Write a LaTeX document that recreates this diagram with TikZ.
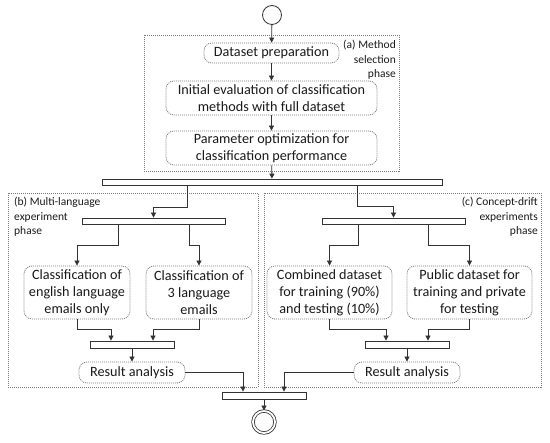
\documentclass[tikz,border=0pt]{standalone}
\usepackage{fontspec}
\setmainfont{Carlito}
\usetikzlibrary{arrows.meta,positioning,calc}
\definecolor{ln}{HTML}{333333}
\definecolor{bd}{HTML}{7A7A7A}
\definecolor{tx}{HTML}{1A1A1A}
\tikzset{
  x=1pt,y=-1pt,
  box/.style={draw=bd,line width=0.8pt,dash pattern=on 1pt off 1pt,rounded corners=8pt,
    align=center,inner sep=0pt,font=\fontsize{14.2}{17}\selectfont,text=tx,fill=white},
  frame/.style={draw=bd,line width=0.8pt,dash pattern=on 1pt off 1pt},
  bar/.style={draw=ln,line width=0.8pt,fill=white,inner sep=0pt,minimum height=6pt},
  arr/.style={draw=ln,line width=0.8pt,-{Triangle[length=5pt,width=5pt]}},
  lbl/.style={font=\fontsize{11.5}{14.5}\selectfont,text=tx,inner sep=0pt},
}
\begin{document}
\begin{tikzpicture}
\useasboundingbox (0,0) rectangle (550,443);
% frames
\draw[frame] (144,35) rectangle (399,171);
\draw[frame] (8,193) rectangle (258,387);
\draw[frame] (264,193) rectangle (541,387);
% labels
\node[lbl,align=right,anchor=north east] (la) at (396,40) {(a) Method\\selection\\phase};
\node[lbl,align=left,anchor=north west] (lb) at (14,197) {(b) Multi-language\\experiment\\phase};
\node[lbl,align=right,anchor=north east] (lc) at (538,197) {(c) Concept-drift\\experiments\\phase};
% start / end
\node[circle,draw=ln,line width=0.8pt,minimum size=19pt,inner sep=0pt] (start) at (272,15) {};
\node[circle,draw=ln,line width=0.8pt,minimum size=22pt,inner sep=0pt,double=white,double distance=1.8pt] (end) at (264,422) {};
% phase (a)
\node[box,minimum width=135pt,minimum height=20pt] (dp) at (271.5,53) {Dataset preparation};
\node[box,minimum width=211pt,minimum height=34pt] (ie) at (271.5,98) {Initial evaluation of classification\\methods with full dataset};
\node[box,minimum width=211pt,minimum height=34pt] (po) at (271.5,148) {Parameter optimization for\\classification performance};
% bars
\node[bar,minimum width=340pt] (main) at (272,182) {};
\node[bar,minimum width=143pt] (sb) at (153.5,221) {};
\node[bar,minimum width=143pt] (sc) at (393.5,221) {};
\node[bar,minimum width=84pt,minimum height=7pt] (jb) at (132,344.5) {};
\node[bar,minimum width=84pt,minimum height=7pt] (jc) at (407,344.5) {};
\node[bar,minimum width=84pt,minimum height=7pt] (fb) at (264,395.5) {};
% phase (b)
\node[box,minimum width=106pt,minimum height=53pt] (ce) at (77,292.5) {Classification of\\english language\\emails only};
\node[box,minimum width=106pt,minimum height=53pt] (c3) at (199,292.5) {Classification of\\3 language\\emails};
\node[box,minimum width=106pt,minimum height=21pt] (rb) at (132,372.5) {Result analysis};
% phase (c)
\node[box,minimum width=125pt,minimum height=53pt] (cd) at (329.5,292.5) {Combined dataset\\for training (90\%)\\and testing (10\%)};
\node[box,minimum width=125pt,minimum height=53pt] (pd) at (469.5,292.5) {Public dataset for\\training and private\\for testing};
\node[box,minimum width=106pt,minimum height=21pt] (rc) at (407,372.5) {Result analysis};
% connectors
\draw[arr] (start) -- (dp);
\draw[arr] (dp) -- (ie);
\draw[arr] (ie) -- (po);
\draw[arr] (po) -- (main);
\draw[arr] ([xshift=-85pt]main.south) -- ++(0,22) -| (sb.north);
\draw[arr] ([xshift=85pt]main.south) -- ++(0,21) -| (sc.north);
\draw[arr] ([xshift=-35.5pt]sb.south) -- ++(0,21) -| (ce.north);
\draw[arr] ([xshift=35.5pt]sb.south) -- ++(0,21) -| (c3.north);
\draw[arr] ([xshift=-35.5pt]sc.south) -- ++(0,21) -| (cd.north);
\draw[arr] ([xshift=34.5pt]sc.south) -- ++(0,21) -| (pd.north);
\draw[arr] (ce.south) -- ++(0,10) -| ([xshift=-21pt]jb.north);
\draw[arr] (c3.south) -- ++(0,10) -| ([xshift=21pt]jb.north);
\draw[arr] (cd.south) -- ++(0,10) -| ([xshift=-21pt]jc.north);
\draw[arr] (pd.south) -- ++(0,10) -| ([xshift=21pt]jc.north);
\draw[arr] (jb) -- (rb);
\draw[arr] (jc) -- (rc);
\draw[arr] (rb.east) -| ([xshift=-21pt]fb.north);
\draw[arr] (rc.west) -| ([xshift=20pt]fb.north);
\draw[arr] (fb) -- (end);
\end{tikzpicture}
\end{document}
